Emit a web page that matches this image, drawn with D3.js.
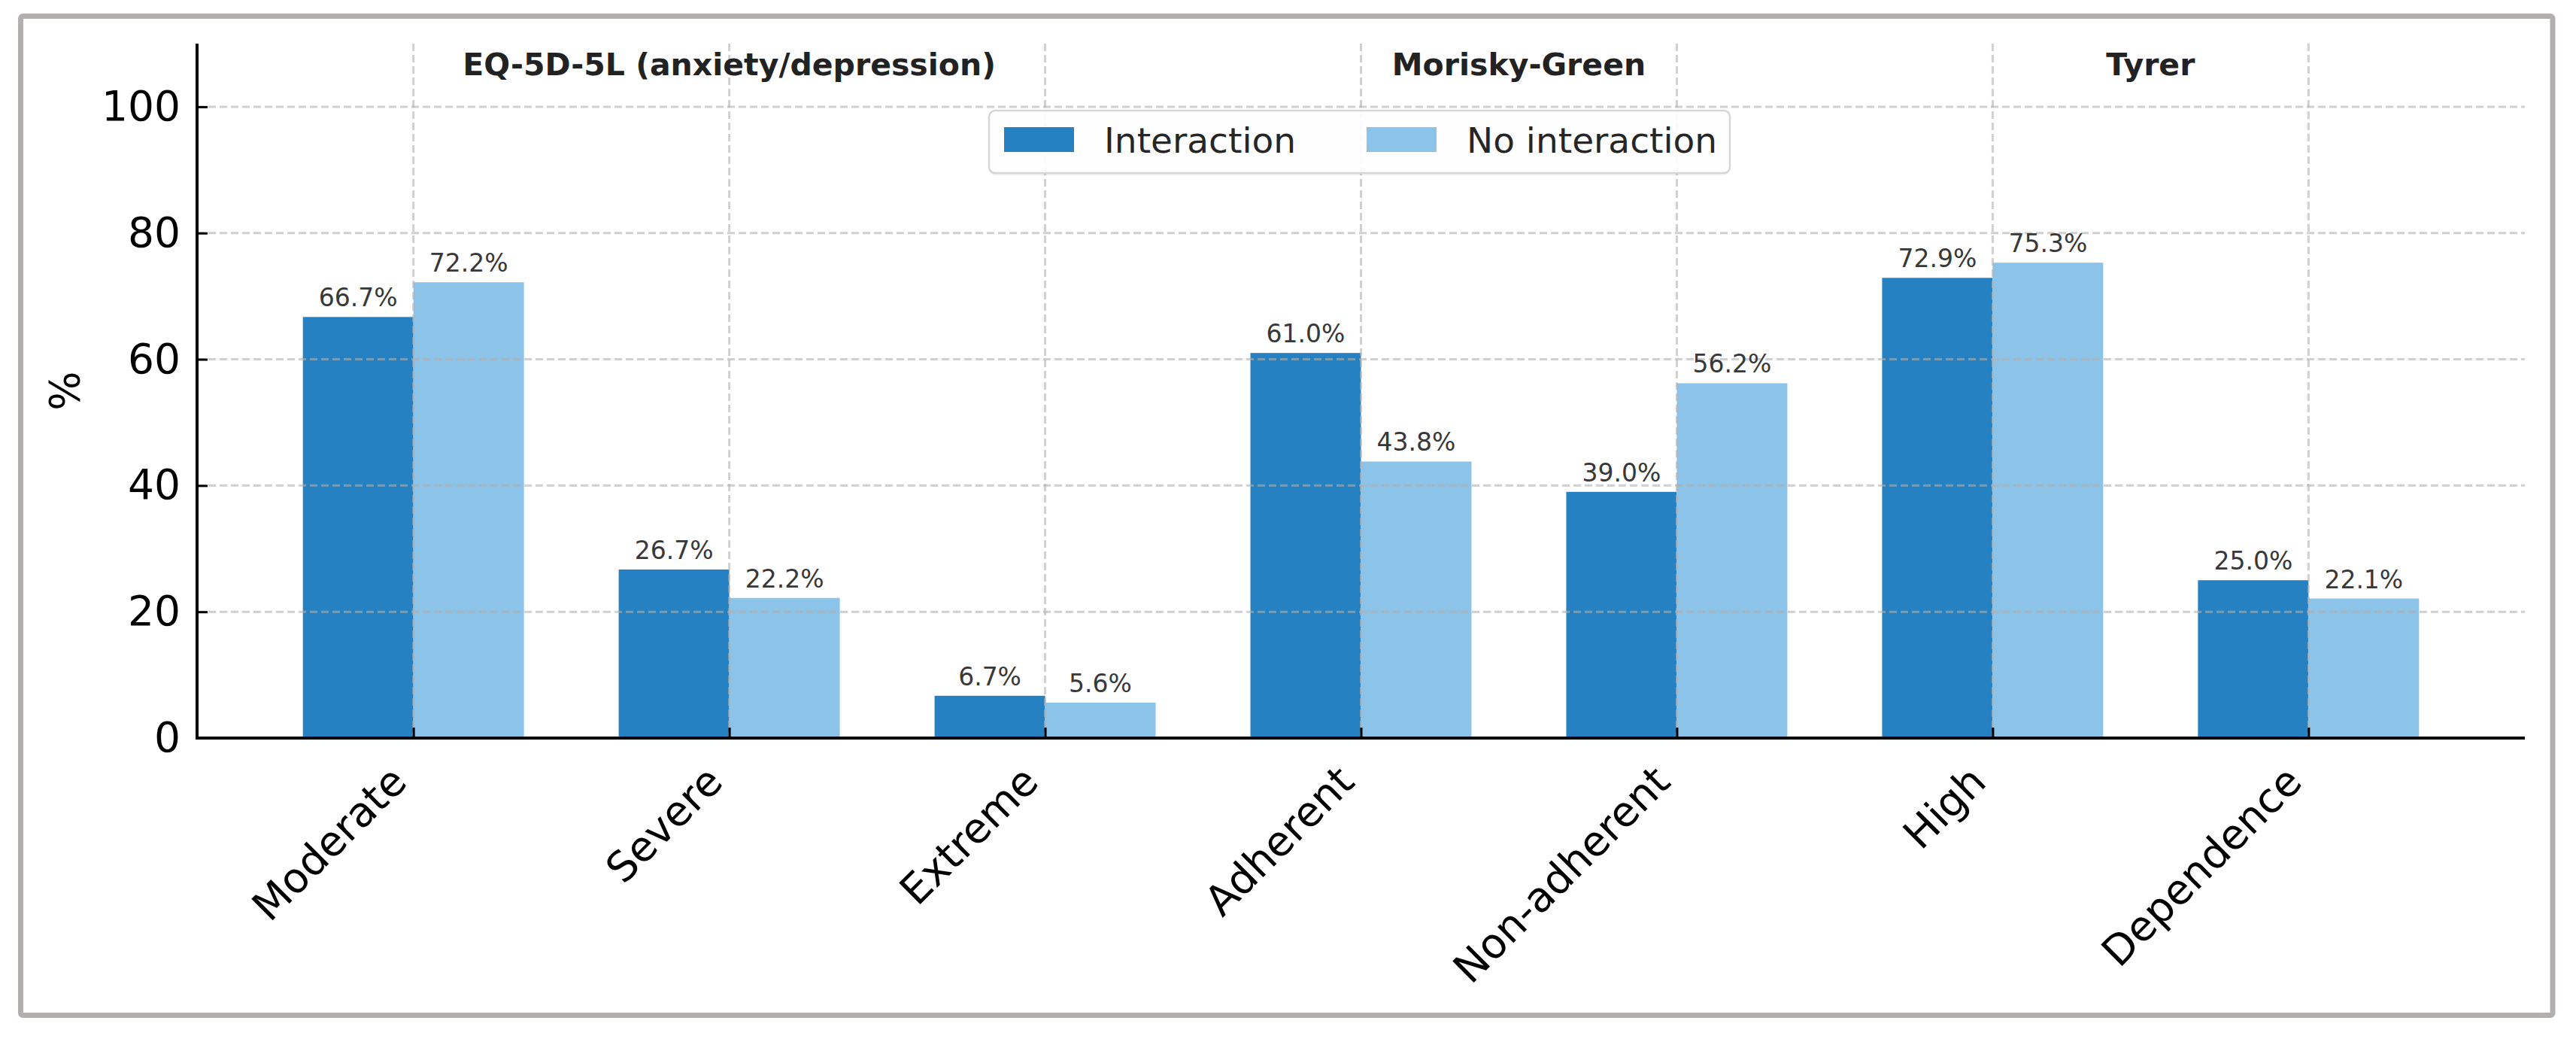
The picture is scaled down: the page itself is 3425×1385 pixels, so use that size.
<!DOCTYPE html>
<html>
<head>
<meta charset="utf-8">
<script src="https://cdn.jsdelivr.net/npm/d3@7"></script>
<style>
  html, body { margin: 0; padding: 0; background: #ffffff; }
  svg { display: block; }
  text { font-family: "DejaVu Sans", sans-serif; }
</style>
</head>
<body>
<div id="chart"></div>
<script>
// ---------------- data ----------------
const categories = ["Moderate", "Severe", "Extreme", "Adherent", "Non-adherent", "High", "Dependence"];
const interaction = [66.7, 26.7, 6.7, 61.0, 39.0, 72.9, 25.0];
const noInteraction = [72.2, 22.2, 5.6, 43.8, 56.2, 75.3, 22.1];
const seriesNames = ["Interaction", "No interaction"];
const groupNames = ["EQ-5D-5L (anxiety/depression)", "Morisky-Green", "Tyrer"];
const groupFirst = [0, 3, 5];
const groupLast = [2, 4, 6];
const yTicks = [0, 20, 40, 60, 80, 100];
const yLabel = "%";

// ---------------- layout ----------------
const W = 3425, H = 1385;
const plot = { left: 262, right: 3357, top: 58, bottom: 981 };
const colors = ["#2581c1", "#8cc3e8"];
const barW = 0.35;

const svg = d3.select("#chart").append("svg")
  .attr("width", W).attr("height", H);

svg.append("rect").attr("x", 0).attr("y", 0).attr("width", W).attr("height", H).attr("fill", "#fff");

// outer frame
svg.append("rect")
  .attr("x", 27.5).attr("y", 21.5)
  .attr("width", 3394 - 27.5).attr("height", 1349.5 - 21.5)
  .attr("rx", 3)
  .attr("fill", "none").attr("stroke", "#b3afae").attr("stroke-width", 7);

const x = d3.scaleLinear().domain([-0.685, categories.length - 1 + 0.685]).range([plot.left, plot.right]);
const y = d3.scaleLinear().domain([0, 110]).range([plot.bottom, plot.top]);

// bars
const barData = [];
categories.forEach((c, i) => {
  barData.push({ i, s: 0, v: interaction[i] });
  barData.push({ i, s: 1, v: noInteraction[i] });
});

svg.append("g").selectAll("rect").data(barData).join("rect")
  .attr("x", d => x(d.s === 0 ? d.i - barW : d.i))
  .attr("width", x(barW) - x(0))
  .attr("y", d => y(d.v))
  .attr("height", d => y(0) - y(d.v))
  .attr("fill", d => colors[d.s]);

// grid (drawn above bars, semi-transparent)
const grid = svg.append("g").attr("stroke", "#b0b0b0").attr("stroke-opacity", 0.6)
  .attr("stroke-width", 3).attr("stroke-dasharray", "10,5");
grid.selectAll("line.h").data(yTicks).join("line")
  .attr("class", "h")
  .attr("x1", plot.left).attr("x2", plot.right)
  .attr("y1", d => y(d)).attr("y2", d => y(d));
grid.selectAll("line.v").data(categories.map((c, i) => i)).join("line")
  .attr("class", "v")
  .attr("x1", d => x(d)).attr("x2", d => x(d))
  .attr("y1", plot.top).attr("y2", plot.bottom);

// value labels
svg.append("g").selectAll("text").data(barData).join("text")
  .attr("x", d => x(d.s === 0 ? d.i - barW / 2 : d.i + barW / 2))
  .attr("y", d => y(d.v) - 14)
  .attr("text-anchor", "middle")
  .attr("font-size", 33)
  .attr("fill", "#383838")
  .text(d => d.v.toFixed(1) + "%");

// axes
const yAxis = d3.axisLeft(y).tickValues(yTicks).tickSize(-14).tickPadding(22).tickFormat(d3.format("d"));
const gy = svg.append("g").attr("transform", `translate(${plot.left},0)`).call(yAxis);
gy.select(".domain").remove();
gy.selectAll(".tick line").attr("stroke", "#000").attr("stroke-width", 3);
gy.selectAll(".tick text").attr("font-size", 55).attr("fill", "#000")
  .attr("font-family", "DejaVu Sans");

const xAxis = d3.axisBottom(x).tickValues(categories.map((c, i) => i)).tickSize(-14).tickFormat(() => "");
const gx = svg.append("g").attr("transform", `translate(0,${plot.bottom})`).call(xAxis);
gx.select(".domain").remove();
gx.selectAll(".tick line").attr("stroke", "#000").attr("stroke-width", 3);

// spines
svg.append("line").attr("x1", plot.left).attr("x2", plot.left)
  .attr("y1", plot.top).attr("y2", plot.bottom + 2)
  .attr("stroke", "#000").attr("stroke-width", 4);
svg.append("line").attr("x1", plot.left - 2).attr("x2", plot.right)
  .attr("y1", plot.bottom).attr("y2", plot.bottom)
  .attr("stroke", "#000").attr("stroke-width", 4);

// rotated category labels
svg.append("g").selectAll("text").data(categories).join("text")
  .attr("transform", (d, i) => `translate(${x(i) - 6},${plot.bottom + 61}) rotate(-45)`)
  .attr("text-anchor", "end")
  .attr("font-size", 55)
  .attr("fill", "#000")
  .text(d => d);

// y label
svg.append("text")
  .attr("transform", `translate(105,${(plot.top + plot.bottom) / 2}) rotate(-90)`)
  .attr("text-anchor", "middle")
  .attr("font-size", 55)
  .attr("fill", "#000")
  .text(yLabel);

// group labels
svg.append("g").selectAll("text").data(groupNames).join("text")
  .attr("x", (d, k) => x((groupFirst[k] + groupLast[k]) / 2))
  .attr("y", y(105))
  .attr("text-anchor", "middle")
  .attr("font-size", 41)
  .attr("font-weight", "bold")
  .attr("fill", "#222222")
  .text(d => d);

// legend
const lg = { left: 1315, top: 147, width: 985, height: 83 };
const lgG = svg.append("g");
lgG.append("rect")
  .attr("x", lg.left).attr("y", lg.top + 3).attr("width", lg.width).attr("height", lg.height)
  .attr("rx", 8).attr("fill", "#000").attr("fill-opacity", 0.05);
lgG.append("rect")
  .attr("x", lg.left).attr("y", lg.top).attr("width", lg.width).attr("height", lg.height)
  .attr("rx", 8).attr("fill", "#fff").attr("fill-opacity", 0.92)
  .attr("stroke", "#d6d6d6").attr("stroke-width", 2.5);
const entryX = [1335, 1817];
seriesNames.forEach((n, k) => {
  lgG.append("rect").attr("x", entryX[k]).attr("y", 169).attr("width", 93).attr("height", 33)
    .attr("fill", colors[k]);
  lgG.append("text").attr("x", entryX[k] + 133).attr("y", 203)
    .attr("font-size", 47).attr("fill", "#262626").text(n);
});
</script>
</body>
</html>
